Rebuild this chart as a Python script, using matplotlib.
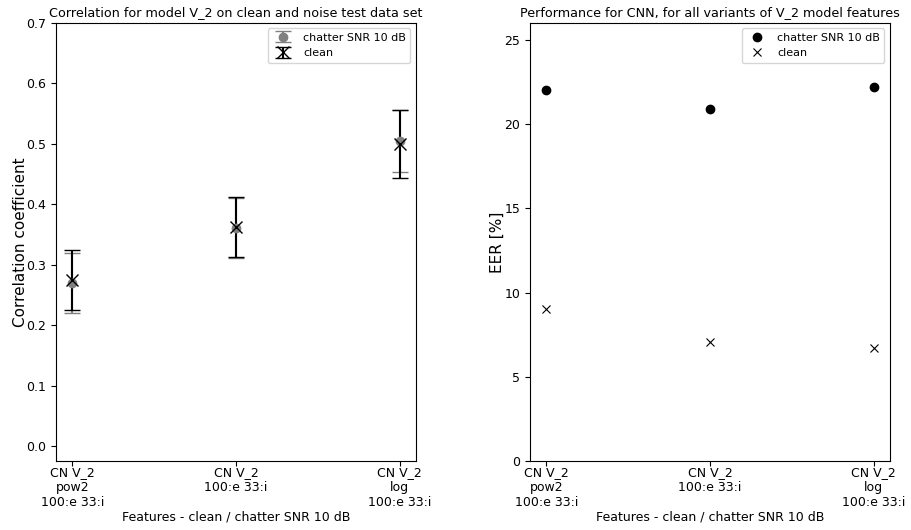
import numpy as np
import matplotlib
matplotlib.use("Agg")
import matplotlib.pyplot as plt

plt.rcParams['font.size'] = 9
plt.rcParams['legend.fontsize'] = 8

# Variantes de features del modelo V_2
feature_labels = ["CN V_2\npow2\n100:e 33:i", "CN V_2\n100:e 33:i", "CN V_2\nlog\n100:e 33:i"]

# Correlación (media y desviación) para chatter SNR 10 dB y clean
corr_chatter = [0.270, 0.361, 0.505]
corr_chatter_err = [0.050, 0.050, 0.051]
corr_clean = [0.275, 0.362, 0.500]
corr_clean_err = [0.050, 0.050, 0.056]

# EER [%] del CNN
eer_chatter = [22.03, 20.9, 22.19]
eer_clean = [9.05, 7.05, 6.68]

x = np.arange(len(feature_labels))

fig, (ax1, ax2) = plt.subplots(1, 2, figsize=(9.11, 5.3), dpi=100)
fig.subplots_adjust(left=0.0615, right=0.977, bottom=0.13, top=0.957, wspace=0.317)

# 1. Correlación con barras de error
ax1.errorbar(x, corr_chatter, yerr=corr_chatter_err, fmt='o', color='gray',
             capsize=6, markersize=6, label='chatter SNR 10 dB')
ax1.errorbar(x, corr_clean, yerr=corr_clean_err, fmt='x', color='black',
             capsize=6, markersize=8, label='clean')
ax1.set_xlim(-0.1, 2.1)
ax1.set_ylim(-0.025, 0.7)
ax1.set_xticks(x)
ax1.set_xticklabels(feature_labels)
ax1.tick_params(axis='x', pad=0)
ax1.set_ylabel('Correlation coefficient', fontsize=11, labelpad=-1)
ax1.set_xlabel('Features - clean / chatter SNR 10 dB', labelpad=1)
ax1.set_title('Correlation for model V_2 on clean and noise test data set', fontsize=9.2, pad=5)
ax1.legend(loc='upper right')

# 2. EER para todas las variantes
ax2.plot(x, eer_chatter, 'o', color='black', markersize=6, label='chatter SNR 10 dB')
ax2.plot(x, eer_clean, 'x', color='black', markersize=6, markeredgewidth=0.8, label='clean')
ax2.set_xlim(-0.1, 2.1)
ax2.set_ylim(0, 26)
ax2.set_xticks(x)
ax2.set_xticklabels(feature_labels)
ax2.tick_params(axis='x', pad=0)
ax2.set_ylabel('EER [%]', fontsize=11, labelpad=0)
ax2.set_xlabel('Features - clean / chatter SNR 10 dB', labelpad=1)
ax2.set_title('Performance for CNN, for all variants of V_2 model features', fontsize=9.2, pad=5)
ax2.legend(loc='upper right')

plt.savefig('out.png', dpi=100)
